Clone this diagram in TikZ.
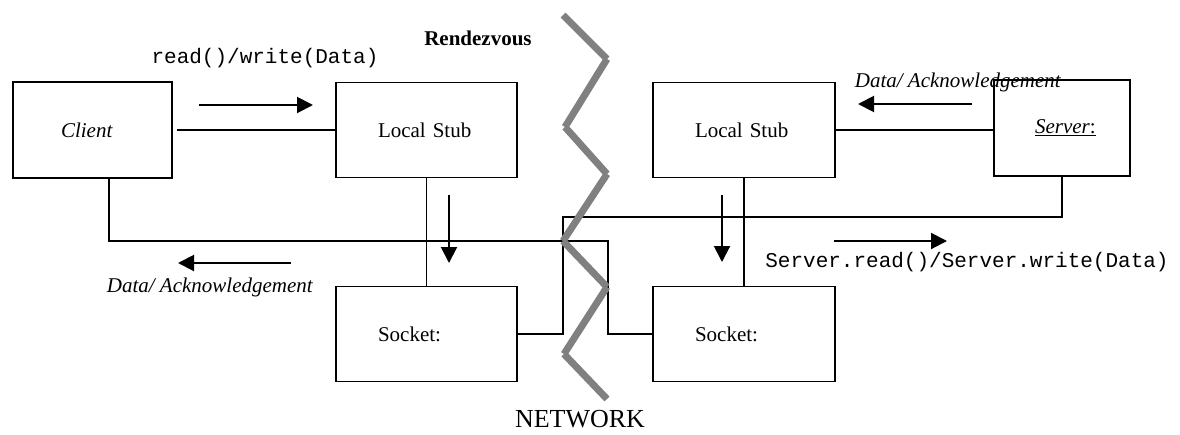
\documentclass[tikz,border=0pt]{standalone}
\usepackage{fontspec}
\setmainfont{Liberation Serif}
\setmonofont{Liberation Mono}
\usetikzlibrary{arrows.meta}
\begin{document}
\begin{tikzpicture}[x=1pt,y=-1pt,
  txt/.style={font=\fontsize{21}{25}\selectfont},
  box/.style={draw, line width=1.8pt, outer sep=0pt, minimum height=95pt, align=left, txt},
  conn/.style={line width=1.6pt},
  arr/.style={line width=2pt, -{Triangle[length=16pt,width=16pt]}},
  zig/.style={draw={rgb,255:red,128;green,128;blue,128}, line width=7pt},
  lbl/.style={txt, inner sep=0pt}]
\useasboundingbox (0,0) rectangle (1180,434);

% boxes
\node[box, inner xsep=48pt, text width=63pt, minimum height=96pt] (client) at (92.5,130) {\textit{Client}};
\node[box, inner xsep=42pt, text width=97pt] (lstub) at (426.5,130) {Local Stub};
\node[box, inner xsep=42pt, text width=97pt] (lsock) at (426.5,334) {Socket:};
\node[box, inner xsep=42pt, text width=98pt] (rstub) at (744,130) {Local Stub};
\node[box, inner xsep=42pt, text width=98pt] (rsock) at (744,334) {Socket:};
\node[box, inner xsep=41pt, text width=54pt, minimum height=96pt] (server) at (1062,128) {\makebox[54pt][l]{\underline{\textit{Server}:}}};

% connectors
\draw[conn] ([xshift=5pt]client.east) -- (lstub.west);
\draw[conn] (lstub.south) -- (lsock.north);
\draw[conn] (rstub.south) -- (rsock.north);
\draw[conn] (rstub.east) -- (rstub.east -| server.west);
\coordinate (c1) at (608,241);
\draw[conn] ([xshift=16.5pt]client.south) |- (c1) |- (rsock.west);
\coordinate (c2) at (563,217);
\draw[conn] (lsock.east) -| (c2) -| (server.south);

% direction arrows
\coordinate (a1s) at (199,105); \coordinate (a1e) at (313,105);
\coordinate (a2s) at (449,195); \coordinate (a2e) at (449,263);
\coordinate (a3s) at (291,263); \coordinate (a3e) at (178,263);
\coordinate (a4s) at (972,104); \coordinate (a4e) at (858,104);
\coordinate (a5s) at (722,195); \coordinate (a5e) at (722,262);
\coordinate (a6s) at (834,241); \coordinate (a6e) at (947,241);
\draw[arr] (a1s) -- (a1e);
\draw[arr] (a2s) -- (a2e);
\draw[arr] (a3s) -- (a3e);
\draw[arr] (a4s) -- (a4e);
\draw[arr] (a5s) -- (a5e);
\draw[arr] (a6s) -- (a6e);

% network zigzag
\coordinate (z1) at (563,15);
\coordinate (z2) at (607,59);
\coordinate (z3) at (565,127);
\coordinate (z4) at (607,174);
\coordinate (z5) at (563,241);
\coordinate (z6) at (607,287);
\coordinate (z7) at (564,354);
\coordinate (z8) at (607,399);
\draw[zig] (z1) -- (z2) (z2) -- (z3) (z3) -- (z4) (z4) -- (z5) (z5) -- (z6) (z6) -- (z7) (z7) -- (z8);

% labels
\node[lbl, font=\fontsize{21}{25}\selectfont\ttfamily] (t1) at (265,58) {read()/write(Data)};
\node[lbl] (t2) at (478,38) {\textbf{Rendezvous}};
\node[lbl] (t3) at (210,287) {\textit{Data/ Acknowledgement}};
\node[lbl] (t4) at (958,82) {\textit{Data/ Acknowledgement}};
\node[lbl, font=\fontsize{21}{25}\selectfont\ttfamily] (t5) at (967,262) {Server.read()/Server.write(Data)};
\node[lbl, font=\fontsize{26}{30}\selectfont] (t6) at (580,419) {NETWORK};
\end{tikzpicture}
\end{document}
